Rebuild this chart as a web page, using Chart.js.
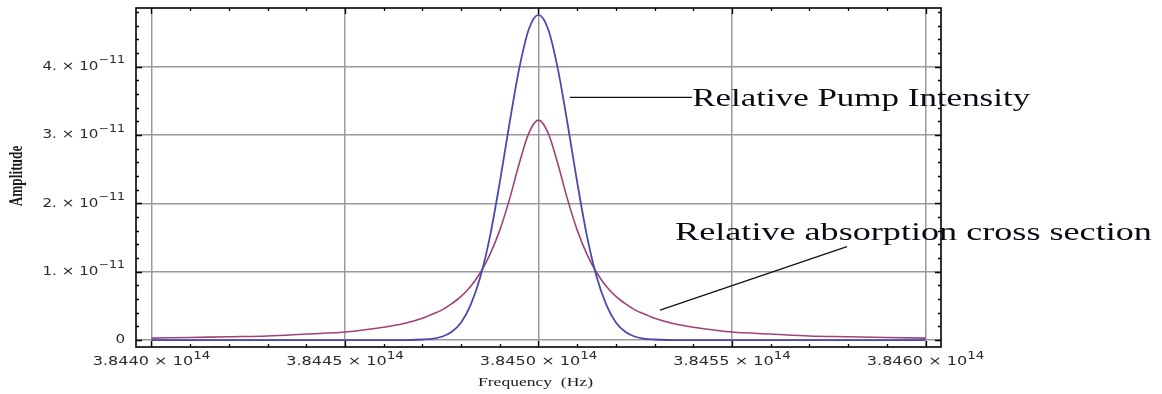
<!DOCTYPE html>
<html>
<head>
<meta charset="utf-8">
<script src="https://cdn.jsdelivr.net/npm/chart.js@4.4.1/dist/chart.umd.min.js"></script>
<style>
  html, body { margin: 0; padding: 0; background: #fff; }
  canvas { display: block; }
</style>
</head>
<body>
<canvas id="chart" width="1162" height="394"></canvas>
<script>
// frequency in units of 10^14 Hz, amplitude in units of 10^-11
const freq = [
  3.8440, 3.8441, 3.8442, 3.8443, 3.8444, 3.8445, 3.8446, 3.84465, 3.8447, 3.844725,
  3.84475, 3.844775, 3.8448, 3.844825, 3.84485, 3.844875, 3.8449, 3.844925, 3.84495, 3.844975,
  3.8450,
  3.845025, 3.84505, 3.845075, 3.8451, 3.845125, 3.84515, 3.845175, 3.8452, 3.845225, 3.84525,
  3.845275, 3.8453, 3.84535, 3.8454, 3.8455, 3.8456, 3.8457, 3.8458, 3.8459, 3.8460
];
const pumpIntensity = [
  0, 0, 0, 0, 0, 0, 0, 0, 0.01, 0.02,
  0.05, 0.12, 0.26, 0.52, 0.93, 1.53, 2.31, 3.17, 3.97, 4.55,
  4.76,
  4.55, 3.97, 3.17, 2.31, 1.53, 0.93, 0.52, 0.26, 0.12, 0.05,
  0.02, 0.01, 0, 0, 0, 0, 0, 0, 0, 0
];
const absorption = [
  0.03, 0.04, 0.05, 0.06, 0.09, 0.12, 0.19, 0.24, 0.32, 0.38,
  0.44, 0.53, 0.64, 0.79, 0.99, 1.26, 1.61, 2.06, 2.58, 3.03,
  3.22,
  3.03, 2.58, 2.06, 1.61, 1.26, 0.99, 0.79, 0.64, 0.53, 0.44,
  0.38, 0.32, 0.24, 0.19, 0.12, 0.09, 0.06, 0.05, 0.04, 0.03
];

const xTicks = [3.8440, 3.8445, 3.8450, 3.8455, 3.8460];
const xTickLabels = ['3.8440', '3.8445', '3.8450', '3.8455', '3.8460'];
const xExponent = '14';
const yTicks = [0, 1, 2, 3, 4];
const yTickLabels = ['0', '1.', '2.', '3.', '4.'];
const yExponent = '\u221211';

const xTitle = 'Frequency  (Hz)';
const yTitle = 'Amplitude';
const pumpLabel = 'Relative Pump Intensity';
const absLabel = 'Relative absorption cross section';

function toPoints(ys) {
  return freq.map((f, i) => ({ x: f, y: ys[i] }));
}

function stretchedText(ctx, text, x, y, font, align, sx) {
  ctx.save();
  ctx.font = font;
  ctx.textAlign = align;
  ctx.textBaseline = 'alphabetic';
  ctx.translate(x, y);
  ctx.scale(sx, 1);
  ctx.fillText(text, 0, 0);
  ctx.restore();
}

// "mantissa × 10^exp" with a raised exponent, stretched sideways like the reference
function sciLabel(ctx, mant, exp, x, y, align, sx) {
  const big = '12px "DejaVu Sans"';
  const small = '10px "DejaVu Sans"';
  const head = exp ? mant + ' \u00d7 10' : mant;
  ctx.save();
  ctx.font = big;
  const w1 = ctx.measureText(head).width;
  ctx.font = small;
  const w2 = exp ? ctx.measureText(exp).width : 0;
  const total = (w1 + w2) * sx;
  const x0 = align === 'right' ? x - total : x - total / 2;
  ctx.translate(x0, y);
  ctx.scale(sx, 1);
  ctx.fillStyle = '#2a2a2a';
  ctx.textBaseline = 'middle';
  ctx.textAlign = 'left';
  ctx.font = big;
  ctx.fillText(head, 0, 0);
  if (exp) {
    ctx.font = small;
    ctx.fillText(exp, w1, -6);
  }
  ctx.restore();
}

const framePlugin = {
  id: 'frame',
  afterDraw(chart) {
    const ctx = chart.ctx;
    const a = chart.chartArea;
    const xs = chart.scales.x, ys = chart.scales.y;

    // frame
    ctx.save();
    ctx.strokeStyle = '#000';
    ctx.lineWidth = 1.6;
    ctx.strokeRect(a.left, a.top, a.right - a.left, a.bottom - a.top);

    // ticks on all four sides, pointing inwards
    ctx.lineWidth = 1.3;
    ctx.beginPath();
    for (let k = 0; k <= 20; k++) {
      const v = 3.8440 + k * 0.0001;
      const px = Math.round(xs.getPixelForValue(v)) + 0.5;
      const len = k % 5 === 0 ? 6 : 3;
      ctx.moveTo(px, a.bottom); ctx.lineTo(px, a.bottom - len);
      ctx.moveTo(px, a.top); ctx.lineTo(px, a.top + len);
    }
    for (let k = 0; k <= 24; k++) {
      const v = k * 0.2;
      const py = Math.round(ys.getPixelForValue(v)) + 0.5;
      const len = k % 5 === 0 ? 6 : 3;
      ctx.moveTo(a.left, py); ctx.lineTo(a.left + len, py);
      ctx.moveTo(a.right, py); ctx.lineTo(a.right - len, py);
    }
    ctx.stroke();
    ctx.restore();

    // tick labels
    xTicks.forEach((v, i) => {
      sciLabel(ctx, xTickLabels[i], xExponent, xs.getPixelForValue(v), a.bottom + 15, 'center', 1.34);
    });
    yTicks.forEach((v, i) => {
      sciLabel(ctx, yTickLabels[i], v === 0 ? '' : yExponent, a.left - 11, ys.getPixelForValue(v), 'right', 1.26);
    });

    // axis titles
    ctx.fillStyle = '#1a1a1a';
    stretchedText(ctx, xTitle, (a.left + a.right) / 2 - 3, a.bottom + 39, '13px "Liberation Serif"', 'center', 1.35);
    ctx.save();
    ctx.translate(22, 176);
    ctx.rotate(-Math.PI / 2);
    ctx.scale(0.74, 1);
    ctx.font = 'bold 18px "Liberation Serif"';
    ctx.textAlign = 'center';
    ctx.textBaseline = 'alphabetic';
    ctx.fillText(yTitle, 0, 0);
    ctx.restore();

    // annotations with pointer lines
    ctx.save();
    ctx.strokeStyle = '#111';
    ctx.lineWidth = 1.3;
    ctx.beginPath();
    ctx.moveTo(xs.getPixelForValue(3.845081), ys.getPixelForValue(3.553));
    ctx.lineTo(xs.getPixelForValue(3.845397), ys.getPixelForValue(3.553));
    ctx.moveTo(xs.getPixelForValue(3.845314), ys.getPixelForValue(0.441));
    ctx.lineTo(xs.getPixelForValue(3.845797), ys.getPixelForValue(1.3675));
    ctx.stroke();
    ctx.restore();

    ctx.fillStyle = '#0a0a14';
    stretchedText(ctx, pumpLabel, xs.getPixelForValue(3.845397), ys.getPixelForValue(3.426),
      '26px "Liberation Serif"', 'left', 1.345);
    stretchedText(ctx, absLabel, xs.getPixelForValue(3.845353), ys.getPixelForValue(1.466),
      '26px "Liberation Serif"', 'left', 1.39);
  }
};

new Chart(document.getElementById('chart').getContext('2d'), {
  type: 'line',
  data: {
    datasets: [
      {
        label: 'Relative Pump Intensity',
        data: toPoints(pumpIntensity),
        borderColor: '#4a4aae',
        borderWidth: 1.8,
        pointRadius: 0,
        cubicInterpolationMode: 'monotone',
        fill: false
      },
      {
        label: 'Relative absorption cross section',
        data: toPoints(absorption),
        borderColor: '#a0427a',
        borderWidth: 1.6,
        pointRadius: 0,
        cubicInterpolationMode: 'monotone',
        fill: false
      }
    ]
  },
  options: {
    responsive: false,
    animation: false,
    devicePixelRatio: 1,
    layout: { padding: { left: 136, top: 8, right: 221, bottom: 47 } },
    plugins: { legend: { display: false }, tooltip: { enabled: false } },
    scales: {
      x: {
        type: 'linear',
        min: 3.84396,
        max: 3.84604,
        afterBuildTicks: s => { s.ticks = xTicks.map(v => ({ value: v })); },
        ticks: { display: false },
        grid: { color: '#9a9a9a', lineWidth: 1.5, drawTicks: false },
        border: { display: false }
      },
      y: {
        type: 'linear',
        min: -0.1,
        max: 4.86,
        afterBuildTicks: s => { s.ticks = yTicks.map(v => ({ value: v })); },
        ticks: { display: false },
        grid: { color: '#9a9a9a', lineWidth: 1.5, drawTicks: false },
        border: { display: false }
      }
    }
  },
  plugins: [framePlugin]
});
</script>
</body>
</html>
